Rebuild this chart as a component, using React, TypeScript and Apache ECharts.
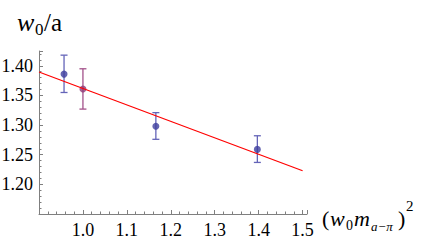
import React, { useEffect, useRef } from "react";
import * as echarts from "echarts";

const xValues = [0.957, 1.0, 1.166, 1.397];
const yValues = [1.386, 1.361, 1.298, 1.259];
const yLow = [1.355, 1.327, 1.276, 1.237];
const yHigh = [1.418, 1.395, 1.321, 1.282];
const pointColors = ["#3d3d9e", "#8e3a78", "#3d3d9e", "#3d3d9e"];
const barColors = ["#6464b8", "#a3518a", "#6464b8", "#6464b8"];
const fitX = [0.9, 1.5];
const fitY = [1.3896, 1.223];
const xTicks = [1.0, 1.1, 1.2, 1.3, 1.4, 1.5];
const yTicks = [1.2, 1.25, 1.3, 1.35, 1.4];

const SERIF = "Liberation Serif";

export default function App() {
  const ref = useRef<HTMLDivElement>(null);
  useEffect(() => {
    if (!ref.current) return;
    const chart = echarts.init(ref.current, null, { renderer: "svg" });
    const axisStyle = { color: "#7f7f7f", width: 1 };
    const t = (x: number, y: number, text: string, size: number, italic = false) => ({
      type: "text",
      x,
      y,
      style: {
        text,
        fontFamily: SERIF,
        fontSize: size,
        fontStyle: italic ? "italic" : "normal",
        fill: "#000",
        textVerticalAlign: "bottom",
      },
    });
    chart.setOption({
      animation: false,
      grid: { left: 39, right: 117, top: 51, bottom: 26, outerBoundsMode: "none", containLabel: false },
      xAxis: {
        type: "value",
        min: 0.9,
        max: 1.51,
        interval: 0.1,
        axisLine: { show: true, lineStyle: axisStyle },
        axisTick: { show: true, inside: true, length: 4, lineStyle: axisStyle },
        minorTick: { show: true, splitNumber: 5, length: 2.5, lineStyle: axisStyle },
        splitLine: { show: false },
        axisLabel: {
          showMaxLabel: false,
          margin: 7,
          fontFamily: SERIF,
          fontSize: 18,
          color: "#000",
          formatter: (v: number) => {
            const hit = xTicks.find((k) => Math.abs(k - v) < 1e-6);
            return hit !== undefined ? hit.toFixed(1) : "";
          },
        },
      },
      yAxis: {
        type: "value",
        min: 1.15,
        max: 1.425,
        interval: 0.05,
        axisLine: { show: true, lineStyle: axisStyle },
        axisTick: { show: true, inside: true, length: 4, lineStyle: axisStyle },
        minorTick: { show: true, splitNumber: 5, length: 2.5, lineStyle: axisStyle },
        splitLine: { show: false },
        axisLabel: {
          showMaxLabel: false,
          margin: 6,
          fontFamily: SERIF,
          fontSize: 18,
          color: "#000",
          formatter: (v: number) => {
            const hit = yTicks.find((k) => Math.abs(k - v) < 1e-6);
            return hit !== undefined ? hit.toFixed(2) : "";
          },
        },
      },
      graphic: [
        t(17, 35, "w", 26, true),
        t(35, 38, "0", 17),
        t(44, 35, "/a", 25),
        t(322, 229, "(", 22),
        t(330, 229, "w", 22, true),
        t(346, 232, "0", 14),
        t(354, 229, "m", 22, true),
        t(371, 233, "a−π", 13, true),
        t(398, 229, ")", 22),
        t(406, 213, "2", 15),
      ],
      series: [
        {
          type: "custom",
          z: 2,
          data: xValues.map((x, i) => [x, yLow[i], yHigh[i], i]),
          renderItem: (params: any, api: any) => {
            const x = api.value(0);
            const lo = api.coord([x, api.value(1)]);
            const hi = api.coord([x, api.value(2)]);
            const c = barColors[api.value(3)];
            const w = 3.5;
            const style = { stroke: c, lineWidth: 1.3 };
            return {
              type: "group",
              children: [
                { type: "line", shape: { x1: lo[0], y1: lo[1], x2: hi[0], y2: hi[1] }, style },
                { type: "line", shape: { x1: lo[0] - w, y1: lo[1], x2: lo[0] + w, y2: lo[1] }, style },
                { type: "line", shape: { x1: hi[0] - w, y1: hi[1], x2: hi[0] + w, y2: hi[1] }, style },
              ],
            };
          },
        },
        {
          type: "scatter",
          z: 3,
          symbolSize: 7,
          data: xValues.map((x, i) => ({
            value: [x, yValues[i]],
            itemStyle: { color: pointColors[i] },
          })),
        },
        {
          type: "line",
          z: 4,
          symbol: "none",
          lineStyle: { color: "#ff0000", width: 1.2 },
          data: fitX.map((x, i) => [x, fitY[i]]),
        },
      ],
    });
    return () => chart.dispose();
  }, []);
  return <div ref={ref} style={{ width: 424, height: 240, position: "absolute", left: 0, top: 0 }} />;
}
